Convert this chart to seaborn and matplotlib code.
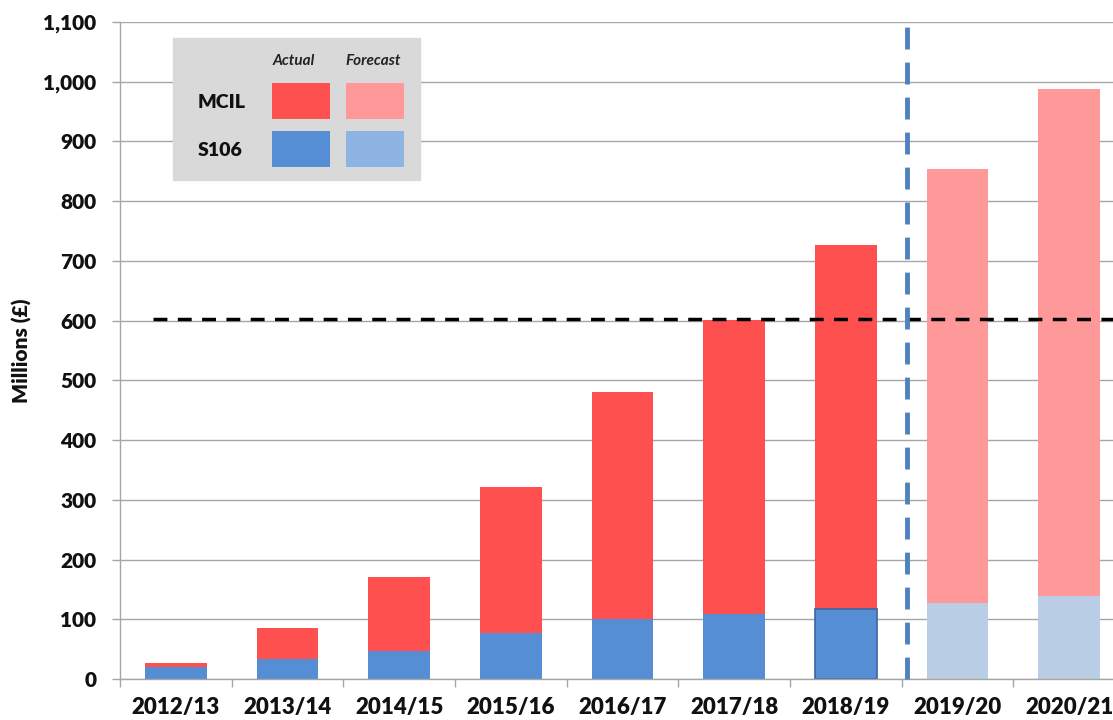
import matplotlib
matplotlib.use("Agg")
import matplotlib.pyplot as plt
from matplotlib.patches import Rectangle
from matplotlib.ticker import FuncFormatter, MultipleLocator, FixedLocator
import seaborn as sns
import numpy as np

# Financial years and receipts (£ millions)
years = ["2012/13", "2013/14", "2014/15", "2015/16", "2016/17",
         "2017/18", "2018/19", "2019/20", "2020/21"]
s106 = [20, 33, 47, 77, 100, 109, 117, 127, 139]
mcil = [7, 52, 124, 244, 381, 492, 610, 727, 848]
is_forecast = [False, False, False, False, False, False, False, True, True]
threshold = 603
forecast_split = 6.55

total = [a + b for a, b in zip(s106, mcil)]

RED = "#FF5050"
RED_FC = "#FF9999"
BLUE = "#558ED5"
BLUE_FC = "#B9CDE5"
BLUE_FC_KEY = "#8EB4E3"

sns.set_theme(style="white")
plt.rcParams["font.family"] = ["Lato", "DejaVu Sans"]

W, H = 1113, 720
fig = plt.figure(figsize=(W / 100, H / 100), dpi=100)
ax = fig.add_axes([120 / W, 41 / H, 1005 / W, 657 / H])

red_cols = [RED_FC if f else RED for f in is_forecast]
blue_cols = [BLUE_FC if f else BLUE for f in is_forecast]

sns.barplot(x=years, y=total, hue=years, palette=red_cols, legend=False,
            width=0.55, saturation=1, linewidth=0, ax=ax)
n_red = len(ax.patches)
sns.barplot(x=years, y=s106, hue=years, palette=blue_cols, legend=False,
            width=0.55, saturation=1, linewidth=0, ax=ax)

# outline on the latest actual S106 bar
last_actual = max(i for i, f in enumerate(is_forecast) if not f)
p = ax.patches[n_red + last_actual]
p.set_edgecolor("#3B64A0")
p.set_linewidth(1.2)

ax.set_xlim(-0.5, len(years) - 0.5)
ax.set_ylim(0, 1100)
ax.yaxis.set_major_locator(MultipleLocator(100))
ax.yaxis.set_major_formatter(FuncFormatter(lambda v, _: f"{int(v):,}"))
ax.grid(axis="y", color="#A6A6A6", linewidth=1.0)
ax.grid(axis="x", visible=False)
ax.set_axisbelow(True)

for s in ["top", "right"]:
    ax.spines[s].set_visible(False)
for s in ["left", "bottom"]:
    ax.spines[s].set_color("#A6A6A6")
    ax.spines[s].set_linewidth(1.0)

# category boundary ticks on the x axis
ax.xaxis.set_minor_locator(FixedLocator(np.arange(-0.5, len(years), 1.0)))
ax.tick_params(axis="x", which="major", length=0, pad=13)
ax.tick_params(axis="x", which="minor", length=6, color="#A6A6A6", width=1, direction="out", bottom=True)
ax.tick_params(axis="y", which="major", length=6, color="#A6A6A6", width=1, direction="out", left=True, pad=11)

for lab in ax.get_xticklabels():
    lab.set_fontsize(16)
    lab.set_fontweight("heavy")
    lab.set_color("#111111")
for lab in ax.get_yticklabels():
    lab.set_fontsize(15)
    lab.set_fontweight("heavy")
    lab.set_color("#111111")

ax.set_xlabel("")
ax.set_ylabel("Millions (£)", fontsize=15, fontweight="heavy", labelpad=8, color="#111111")

# target line and forecast boundary
ax.plot([-0.2, len(years) - 0.5], [threshold, threshold], color="black",
        linestyle=(0, (4, 3)), linewidth=2.5, zorder=5)
ax.axvline(forecast_split, ymin=0, ymax=1.01, color="#4F81BD",
           linestyle=(0, (4.5, 2.7)), linewidth=3.5, zorder=5, clip_on=False)

# key table
def fx(x):
    return x / W

def fy(y):
    return 1 - y / H

fig.patches.append(Rectangle((fx(173), fy(180)), fx(420) - fx(173), fy(38) - fy(180),
                             transform=fig.transFigure, facecolor="#D9D9D9",
                             edgecolor="#D9D9D9", zorder=10))
swatches = [
    (272, 83, RED), (346, 83, RED_FC),
    (272, 131, BLUE), (346, 131, BLUE_FC_KEY),
]
for x0, y0, c in swatches:
    fig.patches.append(Rectangle((fx(x0), fy(y0 + 36)), fx(58), 36 / H,
                                 transform=fig.transFigure, facecolor=c,
                                 edgecolor="none", zorder=11))
fig.text(fx(294), fy(61), "Actual", ha="center", va="center", fontsize=11,
         fontstyle="italic", fontweight="bold", color="#222222", zorder=12)
fig.text(fx(373), fy(61), "Forecast", ha="center", va="center", fontsize=11,
         fontstyle="italic", fontweight="bold", color="#222222", zorder=12)
fig.text(fx(222), fy(103), "MCIL", ha="center", va="center", fontsize=14,
         fontweight="heavy", color="#111111", zorder=12)
fig.text(fx(220), fy(151), "S106", ha="center", va="center", fontsize=14,
         fontweight="heavy", color="#111111", zorder=12)

fig.savefig("out.png", dpi=100)
